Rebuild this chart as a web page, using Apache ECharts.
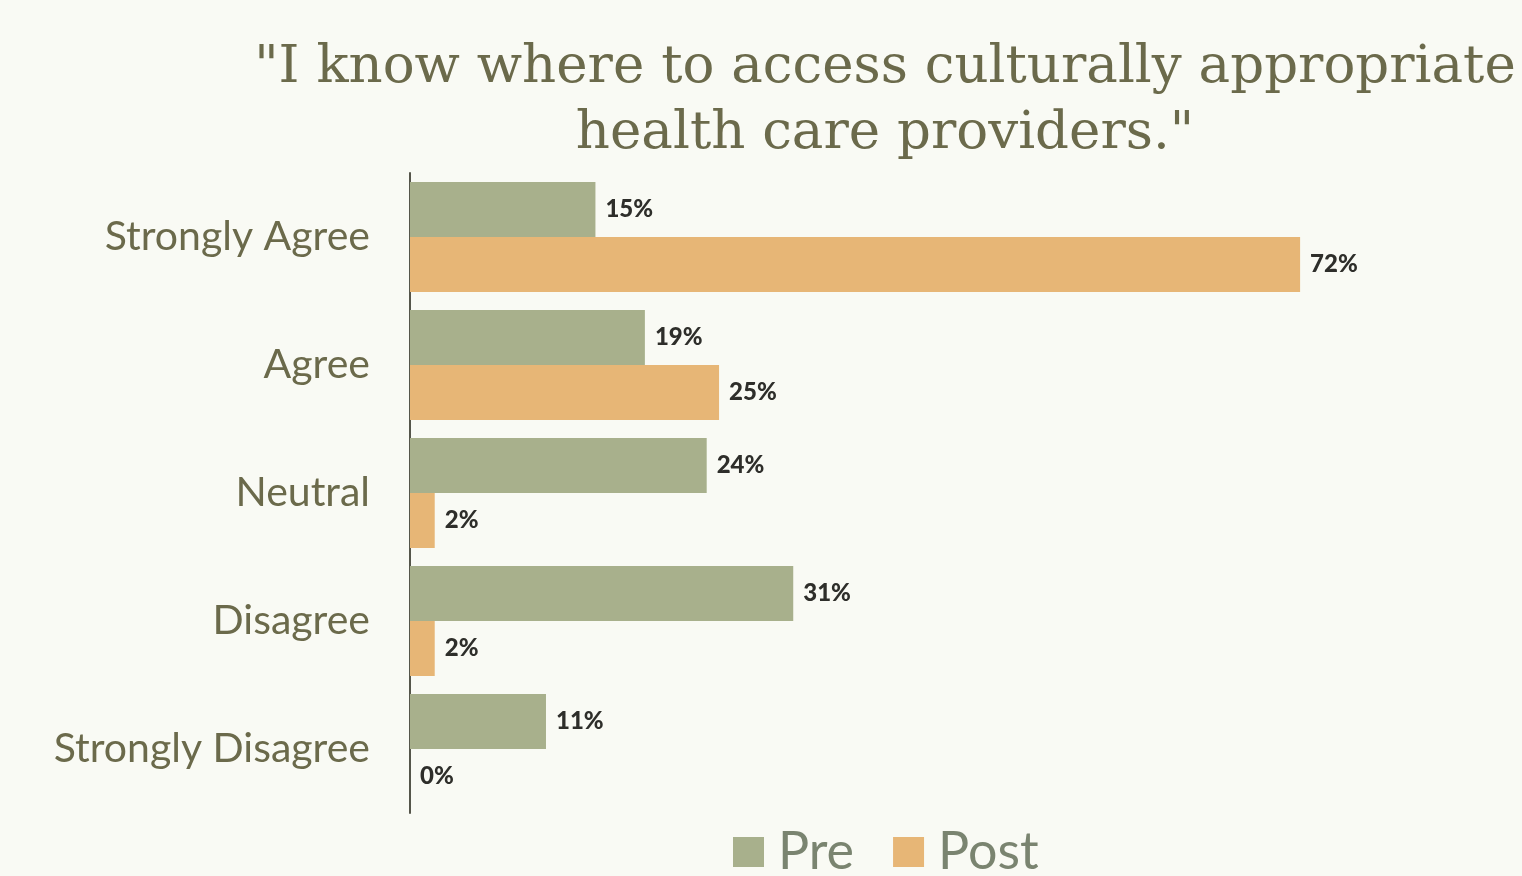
<!DOCTYPE html>
<html>
<head>
<meta charset="utf-8">
<script src="https://cdn.jsdelivr.net/npm/echarts@6/dist/echarts.min.js"></script>
<style>
  html, body { margin: 0; padding: 0; background: #f9faf4; }
  #chart { width: 1522px; height: 876px; }
</style>
</head>
<body>
<div id="chart"></div>
<script>
// 数据
const categories = ['Strongly Agree', 'Agree', 'Neutral', 'Disagree', 'Strongly Disagree']
const preValues = [15, 19, 24, 31, 11]
const postValues = [72, 25, 2, 2, 0]
const seriesNames = ['Pre', 'Post']

const chart = echarts.init(document.getElementById('chart'))

const labelStyle = {
  show: true,
  position: 'right',
  distance: 10,
  formatter: p => p.value + '%',
  color: '#2e2e2a',
  fontFamily: 'Lato',
  fontWeight: 900,
  fontSize: 24
}

const option = {
  backgroundColor: '#f9faf4',
  title: {
    text: '"I know where to access culturally appropriate\nhealth care providers."',
    left: 880,
    top: 30,
    textAlign: 'center',
    textStyle: {
      fontFamily: 'DejaVu Serif',
      fontWeight: 'normal',
      fontSize: 53,
      lineHeight: 66,
      color: '#6b6a4b'
    }
  },
  legend: {
    data: seriesNames,
    left: 733,
    top: 826,
    padding: 0,
    icon: 'rect',
    itemWidth: 31,
    itemHeight: 30,
    itemGap: 39,
    textStyle: {
      fontFamily: 'Lato',
      fontSize: 52,
      color: '#7a8470',
      padding: [0, 0, 0, 9]
    }
  },
  grid: {
    left: 410,
    top: 173,
    bottom: 63,
    right: 123
  },
  xAxis: {
    type: 'value',
    min: 0,
    max: 80,
    show: false
  },
  yAxis: {
    type: 'category',
    data: categories,
    inverse: true,
    axisLine: { lineStyle: { color: '#55554a', width: 2 } },
    axisTick: { show: false },
    axisLabel: {
      margin: 40,
      fontFamily: 'Lato',
      fontSize: 41,
      color: '#6b6a4b'
    }
  },
  series: [
    {
      name: 'Pre',
      type: 'bar',
      data: preValues,
      barWidth: 55,
      barGap: '0%',
      itemStyle: { color: '#a8b08c' },
      label: labelStyle
    },
    {
      name: 'Post',
      type: 'bar',
      data: postValues,
      barWidth: 55,
      itemStyle: { color: '#e7b676' },
      label: labelStyle
    }
  ]
}

chart.setOption(option)
</script>
</body>
</html>
